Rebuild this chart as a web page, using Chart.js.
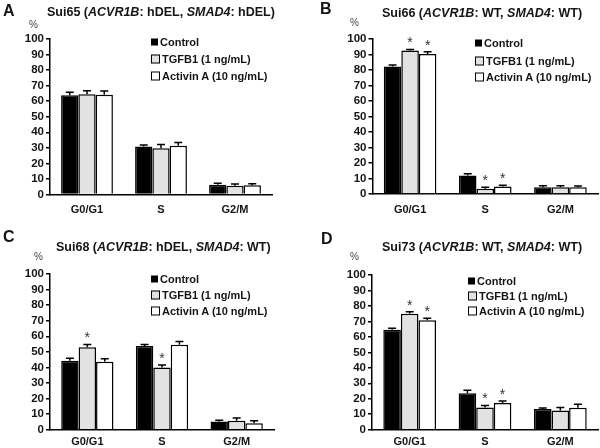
<!DOCTYPE html>
<html>
<head>
<meta charset="utf-8">
<script src="https://cdn.jsdelivr.net/npm/chart.js@4.4.0/dist/chart.umd.min.js"></script>
<style>
body{margin:0;background:#fff;width:600px;height:448px;overflow:hidden;font-family:"Liberation Sans",Arial,sans-serif;}
.panel{position:absolute;width:300px;height:224px;}
.panel canvas{position:absolute;left:0;top:0;}
.txt{position:absolute;white-space:nowrap;font-weight:bold;color:#151515;line-height:1;transform:translateY(-50%);}
.sq{display:inline-block;box-sizing:border-box;vertical-align:middle;margin-right:2px;position:relative;top:-1px;}
</style>
</head>
<body>
<script>
// categories and series
var phases = ['G0/G1', 'S', 'G2/M'];
var treatments = ['Control', 'TGFB1 (1 ng/mL)', 'Activin A (10 ng/mL)'];

// Sui65
var sui65Control = [63.8, 30.8, 6.2];
var sui65Tgfb1   = [64.4, 29.8, 5.7];
var sui65Activin = [64.2, 31.4, 5.9];
var sui65Err     = [[2.0, 1.0, 1.0], [2.3, 2.4, 1.0], [2.3, 2.0, 1.0]];
var sui65Star    = [[0, 0, 0], [0, 0, 0], [0, 0, 0]];

// Sui66
var sui66Control = [82.3, 11.9, 4.4];
var sui66Tgfb1   = [92.6, 3.4, 4.4];
var sui66Activin = [90.4, 4.9, 4.3];
var sui66Err     = [[0.9, 1.1, 1.0], [0.6, 1.0, 1.0], [1.4, 0.8, 0.8]];
var sui66Star    = [[0, 0, 0], [1, 1, 0], [1, 1, 0]];

// Sui68
var sui68Control = [44.3, 53.7, 5.2];
var sui68Tgfb1   = [53.0, 39.9, 5.7];
var sui68Activin = [43.6, 54.6, 4.1];
var sui68Err     = [[1.6, 1.0, 0.8], [1.8, 1.6, 1.8], [2.0, 2.0, 1.6]];
var sui68Star    = [[0, 0, 0], [1, 1, 0], [0, 0, 0]];

// Sui73
var sui73Control = [64.6, 23.5, 13.4];
var sui73Tgfb1   = [75.0, 14.3, 12.4];
var sui73Activin = [70.7, 17.3, 14.2];
var sui73Err     = [[1.0, 2.0, 0.6], [1.2, 1.3, 2.0], [1.3, 1.3, 2.3]];
var sui73Star    = [[0, 0, 0], [1, 1, 0], [1, 1, 0]];

var fills = ['#000000', '#e2e2e2', '#ffffff'];
var txtColor = '#151515';

var errorBars = {
    id: 'errorBars',
    afterDatasetsDraw: function(chart){
        var ctx = chart.ctx;
        var y = chart.scales.y;
        ctx.save();
        chart.data.datasets.forEach(function(ds, di){
            var meta = chart.getDatasetMeta(di);
            meta.data.forEach(function(bar, i){
                var top = y.getPixelForValue(ds.data[i] + ds.errors[i]);
                ctx.strokeStyle = '#000';
                ctx.lineWidth = 1.5;
                ctx.beginPath();
                ctx.moveTo(bar.x, bar.y);
                ctx.lineTo(bar.x, top);
                ctx.moveTo(bar.x - 4, top);
                ctx.lineTo(bar.x + 4, top);
                ctx.stroke();
                if (ds.stars[i]) {
                    ctx.fillStyle = '#333';
                    ctx.font = '14px "Liberation Sans", Arial, sans-serif';
                    ctx.textAlign = 'center';
                    ctx.textBaseline = 'top';
                    ctx.fillText('*', bar.x, top - 13);
                }
            });
        });
        ctx.restore();
    }
};

function makePanel(p){
    var div = document.createElement('div');
    div.className = 'panel';
    div.style.left = p.x + 'px';
    div.style.top = p.y + 'px';
    var cv = document.createElement('canvas');
    cv.width = 300; cv.height = 224;
    div.appendChild(cv);

    function addText(html, x, y, size, extra){
        var t = document.createElement('div');
        t.className = 'txt';
        t.style.left = x + 'px';
        t.style.top = y + 'px';
        t.style.fontSize = size + 'px';
        if (extra) t.style.cssText += extra;
        t.innerHTML = html;
        div.appendChild(t);
    }
    addText(p.letter, p.letterX, p.letterY, 16);
    addText(p.title, p.titleX, p.titleY, 12.5);
    addText('%', p.pctX, p.pctY, 10, 'font-weight:normal;color:#444;');
    treatments.forEach(function(name, k){
        var sq;
        if (k === 0) sq = '<span class="sq" style="width:7px;height:7px;background:#000;"></span>';
        else sq = '<span class="sq" style="width:9px;height:9px;border:1.6px solid #000;background:' + fills[k] + ';"></span>';
        addText(sq + name, p.legX, p.legY[k], 11);
    });
    document.body.appendChild(div);

    var tickFont = {family: '"Liberation Sans", Arial, sans-serif', size: 11.5, weight: 'bold'};
    new Chart(cv.getContext('2d'), {
        type: 'bar',
        data: {
            labels: phases,
            datasets: p.series.map(function(vals, k){
                return {
                    label: treatments[k],
                    data: vals,
                    errors: p.err[k],
                    stars: p.star[k],
                    backgroundColor: fills[k],
                    borderColor: '#000',
                    borderWidth: 1.5,
                    categoryPercentage: 0.7,
                    barPercentage: 1
                };
            })
        },
        options: {
            responsive: false,
            animation: false,
            layout: {padding: {top: p.area[1], right: 300 - p.area[2], left: 0, bottom: 0}},
            plugins: {legend: {display: false}, title: {display: false}, tooltip: {enabled: false}},
            scales: {
                x: {
                    grid: {display: false, drawTicks: false},
                    border: {color: '#000', width: 1.5},
                    ticks: {font: {family: tickFont.family, size: 11, weight: 'bold'}, color: txtColor, padding: p.xPad, maxRotation: 0},
                    afterFit: function(s){ s.height = 224 - p.area[3]; }
                },
                y: {
                    min: 0, max: 100,
                    grid: {drawOnChartArea: false, tickLength: 4, color: '#000', lineWidth: 1.5},
                    border: {color: '#000', width: 1.5},
                    ticks: {stepSize: 10, autoSkip: false, font: tickFont, color: txtColor, padding: 2},
                    afterFit: function(s){ s.width = p.area[0]; }
                }
            }
        },
        plugins: [errorBars]
    });
}

makePanel({x: 0, y: 0, letter: 'A', letterX: 3, letterY: 11,
    title: 'Sui65 (<i>ACVR1B</i>: hDEL, <i>SMAD4</i>: hDEL)', titleX: 47, titleY: 12,
    pctX: 29, pctY: 25, legX: 151, legY: [42, 59, 76], xPad: 9,
    area: [50, 39, 272, 194.5],
    series: [sui65Control, sui65Tgfb1, sui65Activin], err: sui65Err, star: sui65Star});
makePanel({x: 300, y: 0, letter: 'B', letterX: 20, letterY: 9,
    title: 'Sui66 (<i>ACVR1B</i>: WT, <i>SMAD4</i>: WT)', titleX: 82, titleY: 13,
    pctX: 50, pctY: 23, legX: 175, legY: [43, 61, 77], xPad: 9,
    area: [72.5, 39, 298, 194],
    series: [sui66Control, sui66Tgfb1, sui66Activin], err: sui66Err, star: sui66Star});
makePanel({x: 0, y: 224, letter: 'C', letterX: 3, letterY: 13,
    title: 'Sui68 (<i>ACVR1B</i>: hDEL, <i>SMAD4</i>: WT)', titleX: 56, titleY: 23,
    pctX: 34, pctY: 33, legX: 151, legY: [55, 71, 87], xPad: 6,
    area: [50, 50, 274, 205.7],
    series: [sui68Control, sui68Tgfb1, sui68Activin], err: sui68Err, star: sui68Star});
makePanel({x: 300, y: 224, letter: 'D', letterX: 21, letterY: 15,
    title: 'Sui73 (<i>ACVR1B</i>: WT, <i>SMAD4</i>: WT)', titleX: 82, titleY: 23,
    pctX: 50, pctY: 33, legX: 168, legY: [57, 72, 87], xPad: 6,
    area: [72, 51, 298, 205.7],
    series: [sui73Control, sui73Tgfb1, sui73Activin], err: sui73Err, star: sui73Star});
</script>
</body>
</html>
